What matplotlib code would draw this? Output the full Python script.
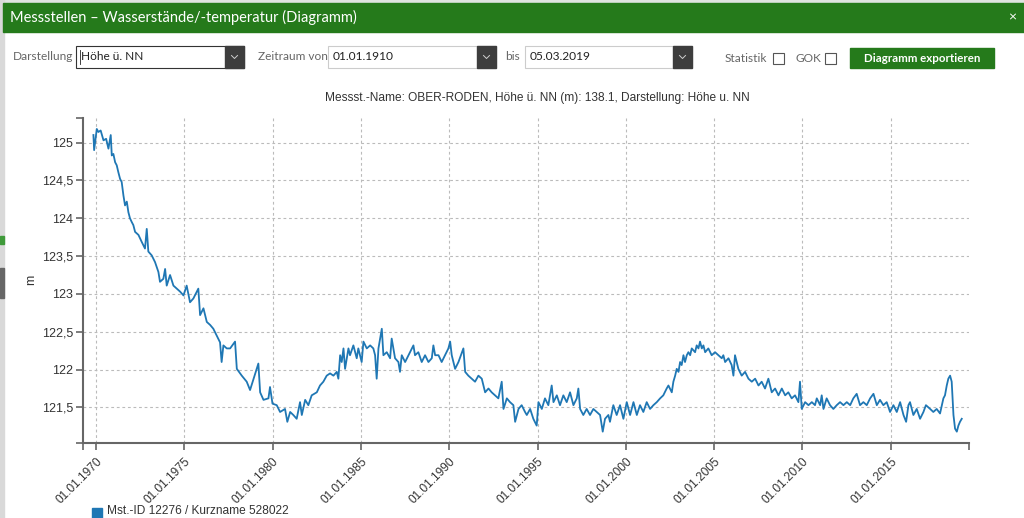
import matplotlib.pyplot as plt
from matplotlib.patches import Rectangle

# Wasserstand OBER-RODEN (Jahr als Dezimalzahl, Höhe ü. NN in m)
jahre = [
    1969.85, 1969.89, 1970.04, 1970.13, 1970.26, 1970.42, 1970.57, 1970.70, 1970.83, 1970.89,
    1970.98, 1971.08, 1971.17, 1971.26, 1971.36, 1971.45, 1971.55, 1971.64, 1971.74, 1971.83,
    1971.92, 1972.02, 1972.11, 1972.21, 1972.40, 1972.58, 1972.77, 1972.87, 1972.96, 1973.15,
    1973.34, 1973.53, 1973.62, 1973.81, 1973.91, 1974.00, 1974.19, 1974.38, 1974.57, 1974.76,
    1974.95, 1975.13, 1975.32, 1975.51, 1975.79, 1975.89, 1976.08, 1976.27, 1976.46, 1976.64,
    1976.83, 1977.02, 1977.11, 1977.21, 1977.40,
    1977.59, 1977.87, 1977.97, 1978.25, 1978.53, 1978.72, 1979.19, 1979.29, 1979.48, 1979.76,
    1979.85, 1979.99, 1980.23, 1980.42, 1980.70, 1980.83, 1980.99, 1981.17, 1981.36, 1981.55,
    1981.65, 1981.84, 1982.02, 1982.21, 1982.50, 1982.68, 1982.87, 1983.06, 1983.25, 1983.44,
    1983.63, 1983.72, 1983.82, 1983.91, 1984.01, 1984.10, 1984.29, 1984.38, 1984.57, 1984.76,
    1984.85, 1985.04, 1985.14, 1985.33, 1985.52, 1985.70, 1985.80, 1985.89, 1985.99,
    1986.18, 1986.27, 1986.46, 1986.65, 1986.74, 1986.93, 1987.12, 1987.21, 1987.31, 1987.50,
    1987.69, 1987.88, 1987.97, 1988.06, 1988.25, 1988.44, 1988.63, 1988.82, 1989.01, 1989.10,
    1989.20, 1989.39, 1989.57, 1989.76, 1989.95, 1990.05, 1990.14, 1990.33, 1990.52, 1990.80,
    1990.90, 1991.08, 1991.27, 1991.46, 1991.65, 1991.84, 1992.03, 1992.22, 1992.40, 1992.59,
    1992.78, 1992.97, 1993.07, 1993.26, 1993.44, 1993.63, 1993.73, 1993.92, 1994.10, 1994.29,
    1994.39, 1994.58, 1994.76, 1994.95, 1995.05, 1995.24, 1995.42, 1995.61, 1995.80, 1995.90,
    1996.09, 1996.27, 1996.46, 1996.65, 1996.84, 1997.03, 1997.22, 1997.31, 1997.41, 1997.59,
    1997.78, 1997.97, 1998.16, 1998.35, 1998.54, 1998.69, 1998.82, 1999.01, 1999.10, 1999.29,
    1999.48, 1999.67, 1999.86, 2000.05, 2000.24, 2000.43, 2000.62, 2000.80, 2000.99, 2001.18,
    2001.37, 2001.56, 2001.75, 2001.94, 2002.12, 2002.31, 2002.41,
    2002.60, 2002.69, 2002.79, 2002.88, 2002.98, 2003.07, 2003.16, 2003.26, 2003.35, 2003.45,
    2003.54, 2003.64, 2003.73, 2003.92, 2004.01, 2004.11, 2004.20, 2004.30, 2004.39, 2004.49,
    2004.67, 2004.86, 2005.05, 2005.24, 2005.43, 2005.52, 2005.62, 2005.81, 2005.99, 2006.09,
    2006.18, 2006.37, 2006.56, 2006.75, 2006.94, 2007.13, 2007.32, 2007.51, 2007.69, 2007.88,
    2008.07, 2008.26, 2008.45, 2008.64, 2008.83, 2009.02, 2009.20, 2009.39, 2009.58, 2009.77,
    2009.86, 2009.96, 2010.15, 2010.34, 2010.53, 2010.71,
    2010.81, 2011.00, 2011.09, 2011.19, 2011.37, 2011.56, 2011.75, 2011.94, 2012.13, 2012.32,
    2012.51, 2012.70, 2012.88, 2013.07, 2013.26, 2013.45, 2013.64, 2013.83, 2014.02, 2014.21,
    2014.39, 2014.58, 2014.77, 2014.96, 2015.15, 2015.34, 2015.53, 2015.72, 2015.87, 2016.00,
    2016.09, 2016.28, 2016.47, 2016.66, 2016.85, 2016.99, 2017.23, 2017.41, 2017.60, 2017.79,
    2017.98, 2018.07, 2018.17, 2018.26, 2018.36, 2018.45, 2018.55, 2018.64, 2018.74, 2018.83,
    2018.92, 2019.02,
]
werte = [
    125.10, 124.90, 125.18, 125.14, 125.16, 125.03, 125.05, 124.92, 125.10, 124.83,
    124.85, 124.74, 124.70, 124.61, 124.52, 124.48, 124.30, 124.17, 124.22, 124.08,
    124.00, 123.95, 123.91, 123.82, 123.78, 123.69, 123.60, 123.86, 123.56, 123.51,
    123.42, 123.29, 123.16, 123.20, 123.33, 123.11, 123.25, 123.11, 123.07, 123.03,
    122.98, 123.11, 122.89, 122.94, 123.07, 122.72, 122.81, 122.63, 122.59, 122.54,
    122.45, 122.36, 122.10, 122.32, 122.28,
    122.28, 122.37, 122.01, 121.92, 121.84, 121.73, 122.08, 121.70, 121.60, 121.62,
    121.77, 121.55, 121.53, 121.44, 121.48, 121.31, 121.44, 121.40, 121.35, 121.57,
    121.40, 121.60, 121.53, 121.66, 121.70, 121.79, 121.84, 121.92, 121.95, 121.92,
    121.97, 121.88, 122.19, 122.10, 122.28, 122.01, 122.28, 122.19, 122.32, 122.15,
    122.28, 122.10, 122.37, 122.28, 122.32, 122.28, 122.19, 121.88, 122.28,
    122.54, 122.19, 122.23, 122.15, 122.41, 122.15, 122.10, 121.97, 122.19, 122.10,
    122.19, 122.28, 122.32, 122.19, 122.23, 122.10, 122.19, 122.10, 122.15, 122.32,
    122.19, 122.19, 122.10, 122.19, 122.28, 122.37, 122.19, 122.01, 122.10, 122.28,
    121.97, 121.92, 121.88, 121.84, 121.92, 121.88, 121.70, 121.75, 121.70, 121.66,
    121.62, 121.84, 121.48, 121.62, 121.57, 121.53, 121.31, 121.48, 121.53, 121.44,
    121.40, 121.48, 121.35, 121.26, 121.57, 121.48, 121.62, 121.53, 121.79, 121.57,
    121.66, 121.53, 121.66, 121.57, 121.70, 121.53, 121.62, 121.75, 121.48, 121.40,
    121.48, 121.40, 121.48, 121.44, 121.40, 121.18, 121.35, 121.40, 121.31, 121.53,
    121.40, 121.53, 121.35, 121.57, 121.40, 121.57, 121.40, 121.53, 121.44, 121.57,
    121.48, 121.53, 121.57, 121.62, 121.66, 121.75, 121.79,
    121.70, 121.84, 121.92, 122.01, 121.97, 122.10, 122.06, 122.19, 122.10, 122.19,
    122.23, 122.19, 122.28, 122.23, 122.32, 122.28, 122.37, 122.28, 122.32, 122.23,
    122.28, 122.19, 122.23, 122.19, 122.15, 122.19, 122.10, 122.15, 122.06, 121.92,
    122.19, 122.01, 121.92, 121.97, 121.88, 121.84, 121.88, 121.79, 121.84, 121.75,
    121.88, 121.70, 121.75, 121.66, 121.75, 121.66, 121.70, 121.62, 121.66, 121.57,
    121.84, 121.48, 121.57, 121.53, 121.57, 121.53,
    121.62, 121.53, 121.66, 121.48, 121.62, 121.53, 121.48, 121.53, 121.57, 121.53,
    121.57, 121.53, 121.62, 121.68, 121.53, 121.57, 121.53, 121.62, 121.68, 121.53,
    121.60, 121.53, 121.57, 121.44, 121.53, 121.44, 121.57, 121.40, 121.31, 121.53,
    121.57, 121.40, 121.48, 121.35, 121.44, 121.53, 121.48, 121.44, 121.48, 121.42,
    121.62, 121.66, 121.79, 121.88, 121.92, 121.84, 121.40, 121.22, 121.18, 121.26,
    121.31, 121.35,
]

y_ticks = [121.5, 122, 122.5, 123, 123.5, 124, 124.5, 125]
y_labels = ['121,5', '122', '122,5', '123', '123,5', '124', '124,5', '125']
x_ticks = [1970, 1975, 1980, 1985, 1990, 1995, 2000, 2005, 2010, 2015]
x_labels = ['01.01.1970', '01.01.1975', '01.01.1980', '01.01.1985', '01.01.1990',
            '01.01.1995', '01.01.2000', '01.01.2005', '01.01.2010', '01.01.2015']
x_lim = (1969.26, 2019.43)
y_lim = (121.03, 125.325)

titel = 'Messstellen – Wasserstände/-temperatur (Diagramm)'
untertitel = 'Messst.-Name: OBER-RODEN, Höhe ü. NN (m): 138.1, Darstellung: Höhe u. NN'
legende = 'Mst.-ID 12276 / Kurzname 528022'

gruen = '#257a1b'
blau = '#1f77b4'
ui_font = ['Lato', 'DejaVu Sans']
chart_font = ['Liberation Sans', 'DejaVu Sans']

fig = plt.figure(figsize=(10.24, 5.18), dpi=100)

# Hintergrund / Dialog in Pixelkoordinaten
bg = fig.add_axes([0, 0, 1, 1])
bg.set_xlim(0, 1024)
bg.set_ylim(518, 0)
bg.axis('off')
bg.add_patch(Rectangle((0, 0), 1024, 518, color='white'))
bg.add_patch(Rectangle((0, 0), 1024, 4, color='#dfe4e0'))
bg.add_patch(Rectangle((0, 0), 4, 518, color='#d9d9d9'))
bg.add_patch(Rectangle((0, 236), 4, 8, color='#3f9a3a'))
bg.add_patch(Rectangle((0, 268), 4, 30, color='#666666'))
bg.add_patch(Rectangle((3, 3), 1021, 29, color=gruen))
bg.text(10, 17.5, titel, color='white', fontsize=10.5, family=ui_font, va='center')
bg.text(1012, 17, '×', color='white', fontsize=10, family=ui_font, va='center', ha='center')

# Bedienelemente
bg.text(13, 57, 'Darstellung', color='#666666', fontsize=8.6, family=ui_font, va='center')
bg.text(258, 57, 'Zeitraum von', color='#666666', fontsize=8.6, family=ui_font, va='center')
bg.text(505, 57, 'bis', color='#666666', fontsize=8.6, family=ui_font, va='center')
bg.text(725, 58, 'Statistik', color='#666666', fontsize=8.6, family=ui_font, va='center')
bg.text(796, 58, 'GOK', color='#666666', fontsize=8.6, family=ui_font, va='center')

boxen = [(76, 244, 'Höhe ü. NN', '#333333'),
         (328, 496, '01.01.1910', '#cccccc'),
         (525, 692, '05.03.2019', '#cccccc')]
for x0, x1, txt, rand in boxen:
    bg.add_patch(Rectangle((x0, 46), x1 - x0, 22, facecolor='white', edgecolor=rand, lw=0.8))
    bg.add_patch(Rectangle((x1 - 19, 46), 19, 22, color='#3d3d3d'))
    cx = x1 - 9.5
    bg.plot([cx - 3, cx, cx + 3], [55.5, 58.5, 55.5], color='#cfcfcf', lw=0.7)
    bg.text(x0 + 5, 57, txt, color='#222222', fontsize=8.6, family=ui_font, va='center')
bg.plot([80, 80], [50, 64], color='#222222', lw=0.6)

for x0 in [773, 825]:
    bg.add_patch(Rectangle((x0, 53), 11, 11, facecolor='white', edgecolor='#555555', lw=0.8))
bg.add_patch(Rectangle((850, 48), 144, 20, color=gruen))
bg.text(922, 58, 'Diagramm exportieren', color='white', fontsize=8.3, weight='bold',
        family=ui_font, va='center', ha='center')

# Diagrammtitel, y-Label, Legende
bg.text(537, 98, untertitel, color='#333333', fontsize=8.6, family=chart_font,
        va='center', ha='center')
bg.text(31, 280, 'm', color='#333333', fontsize=9, family=chart_font,
        va='center', ha='center', rotation=90)
bg.add_patch(Rectangle((92, 508), 10, 10, color=blau))
bg.text(107, 511.5, legende, color='#333333', fontsize=8.6, family=chart_font, va='center')

# Diagramm
ax = fig.add_axes([83 / 1024, 75 / 518, 886 / 1024, 325 / 518])
ax.set_facecolor('none')
ax.plot(jahre, werte, color=blau, lw=1.3)
ax.set_xlim(*x_lim)
ax.set_ylim(*y_lim)
ax.set_yticks(y_ticks)
ax.set_yticklabels(y_labels, family=chart_font)
ax.set_xticks(x_ticks)
ax.set_xticklabels(x_labels, family=chart_font, rotation=45, ha='right', va='top',
                   rotation_mode='anchor')
ax.set_xticks(list(x_lim), minor=True)
ax.set_yticks(list(y_lim), minor=True)
ax.tick_params(which='both', length=5, width=1.2, color='#666666',
               labelcolor='#333333', labelsize=9)
ax.tick_params(axis='y', pad=2)
ax.tick_params(axis='x', pad=4, labelsize=8.6)
ax.tick_params(which='minor', labelleft=False, labelbottom=False)
for s in ['top', 'right']:
    ax.spines[s].set_visible(False)
for s in ['left', 'bottom']:
    ax.spines[s].set_color('#666666')
    ax.spines[s].set_linewidth(1.5)
ax.grid(True, which='major', color='#bbbbbb', linestyle=(0, (2.5, 2.5)), lw=0.8)

fig.savefig('out.png', dpi=100)
